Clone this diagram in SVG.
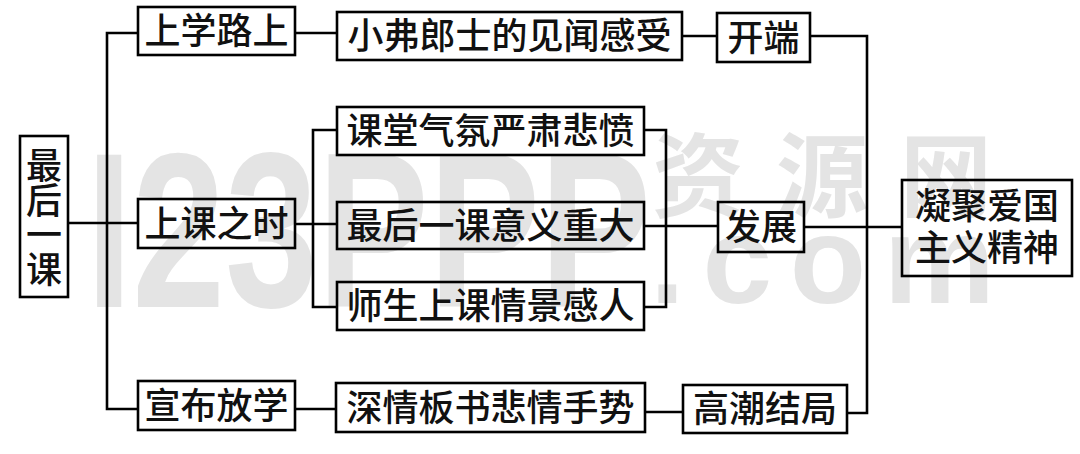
<svg xmlns="http://www.w3.org/2000/svg" width="1080" height="454" viewBox="0 0 1080 454">
<style>
.box{fill:none;stroke:#000;stroke-width:2.6}
.t{font-family:"Noto Sans CJK SC","Noto Sans CJK TC",sans-serif;font-size:36px;font-weight:500;fill:#111;text-anchor:middle}
.ln{fill:none;stroke:#000;stroke-width:2.6}
.wm{font-family:"Liberation Sans",Arial,sans-serif;font-weight:bold;fill:#e4e4e4}
.wmc{font-family:"Noto Sans CJK SC",sans-serif;font-weight:bold;fill:#e4e4e4}
</style>
<rect width="1080" height="454" fill="#fff"/>
<g id="watermark">
<text class="wm" x="86" y="307" font-size="220" textLength="565" lengthAdjust="spacingAndGlyphs">I23PPP</text>
<text class="wm" x="650" y="303" font-size="125" textLength="345" lengthAdjust="spacing">.com</text>
<text class="wmc" x="652" y="210" font-size="92" textLength="340" lengthAdjust="spacing">资源网</text>
</g>
<g id="connectors">
<path class="ln" d="M68,223H138"/>
<path class="ln" d="M138,33H107V409H138"/>
<path class="ln" d="M295,33H337"/>
<path class="ln" d="M682,36H717"/>
<path class="ln" d="M810,36H867V413H847"/>
<path class="ln" d="M867,227H902"/>
<path class="ln" d="M295,224H337"/>
<path class="ln" d="M337,130H313V307H337"/>
<path class="ln" d="M644,130H666V307H644"/>
<path class="ln" d="M644,226H718"/>
<path class="ln" d="M804,227H867"/>
<path class="ln" d="M295,409H336"/>
<path class="ln" d="M645,412H683"/>
</g>
<g id="n1"><rect class="box" x="138" y="7" width="157" height="48"/><text class="t" x="216.5" y="44">上学路上</text></g>
<g id="n2"><rect class="box" x="337" y="12" width="345" height="48"/><text class="t" x="509.5" y="49">小弗郎士的见闻感受</text></g>
<g id="n3"><rect class="box" x="717" y="13" width="93" height="49"/><text class="t" x="763.5" y="50.5">开端</text></g>
<g id="n4"><rect class="box" x="20" y="136" width="48" height="161"/>
<text class="t" x="44" y="179">最</text><text class="t" x="44" y="214">后</text><text class="t" x="44" y="248">一</text><text class="t" x="44" y="283">课</text></g>
<g id="n5"><rect class="box" x="138" y="199" width="157" height="49"/><text class="t" x="216.5" y="236.5">上课之时</text></g>
<g id="n6"><rect class="box" x="337" y="107" width="307" height="48"/><text class="t" x="490.5" y="144">课堂气氛严肃悲愤</text></g>
<g id="n7"><rect class="box" x="337" y="202" width="307" height="47"/><text class="t" x="490.5" y="238.5">最后一课意义重大</text></g>
<g id="n8"><rect class="box" x="337" y="282" width="307" height="48"/><text class="t" x="490.5" y="319">师生上课情景感人</text></g>
<g id="n9"><rect class="box" x="718" y="202" width="86" height="50"/><text class="t" x="761" y="240">发展</text></g>
<g id="n10"><rect class="box" x="902" y="180" width="170" height="96"/><text class="t" x="987" y="219">凝聚爱国</text><text class="t" x="987" y="261">主义精神</text></g>
<g id="n11"><rect class="box" x="138" y="381" width="157" height="49"/><text class="t" x="216.5" y="418.5">宣布放学</text></g>
<g id="n12"><rect class="box" x="336" y="383" width="309" height="49"/><text class="t" x="490.5" y="420.5">深情板书悲情手势</text></g>
<g id="n13"><rect class="box" x="683" y="385" width="164" height="48"/><text class="t" x="765" y="422">高潮结局</text></g>
</svg>
